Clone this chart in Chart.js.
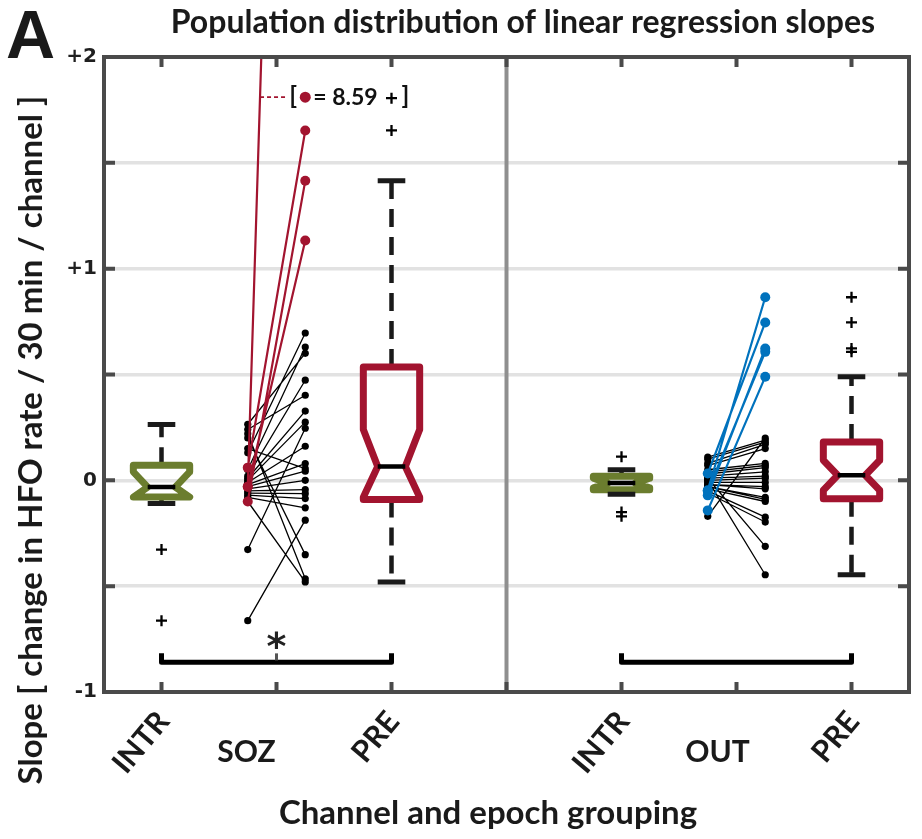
<!DOCTYPE html>
<html>
<head>
<meta charset="utf-8">
<script src="https://cdn.jsdelivr.net/npm/chart.js@4.4.1/dist/chart.umd.min.js"></script>
<style>
html,body{margin:0;padding:0;background:#ffffff;}
#wrap{width:922px;height:839px;position:relative;}
</style>
</head>
<body>
<div id="wrap"><canvas id="c" width="922" height="839"></canvas></div>
<script>
// ================= DATA =================
// x category positions 1..7 ; position 4 is the panel divider
const categories = ['INTR', 'SOZ', 'PRE', '', 'INTR', 'OUT', 'PRE'];
const yTickLabels = { '2': '+2', '1': '+1', '0': '0', '-1': '-1' };

// SOZ channels: slope during INTR (left column) paired with slope during PRE (right column)
const sozIntrBlack = [0.265, 0.24, 0.22, 0.20, 0.15, 0.13, 0.05, 0.02, 0.01, 0.00, -0.01, -0.02, -0.03, -0.04, -0.05, -0.06, -0.07, -0.08, -0.10, -0.327, -0.663];
const sozPreBlack  = [0.60, 0.402, -0.465, -0.351, 0.055, 0.696, 0.63, 0.473, 0.327, 0.275, 0.161, 0.079, 0.043, 0.00, -0.044, -0.063, -0.086, -0.13, -0.48, 0.246, -0.188];
const sozIntrRed   = [0.06, -0.10, -0.03, -0.03];
const sozPreRed    = [1.653, 1.415, 1.133, 8.59];

// OUT channels
const outIntrBlack = [0.11, 0.10, 0.08, 0.07, 0.05, 0.04, 0.03, 0.02, 0.00, 0.01, 0.01, 0.00, -0.01, -0.02, -0.02, -0.03, -0.03, -0.04, -0.05, -0.06, -0.17];
const outPreBlack  = [0.19, 0.18, 0.17, 0.15, 0.08, 0.07, 0.06, 0.04, -0.446, -0.312, 0.02, 0.01, -0.01, -0.03, -0.04, -0.08, -0.09, -0.10, -0.174, -0.197, 0.20];
const outIntrBlue  = [-0.047, 0.032, -0.071, -0.05, -0.142];
const outPreBlue   = [0.865, 0.746, 0.623, 0.607, 0.489];

// Box statistics: [lowerWhisker, q1, notchLow, median, notchHigh, q3, upperWhisker]
const boxSozIntr = [-0.11, -0.079, -0.079, -0.032, 0.04, 0.071, 0.264];
const boxSozPre  = [-0.48, -0.09, -0.08, 0.065, 0.24, 0.536, 1.415];
const boxOutIntr = [-0.066, -0.044, -0.035, -0.013, 0.01, 0.019, 0.05];
const boxOutPre  = [-0.446, -0.087, -0.047, 0.024, 0.095, 0.181, 0.489];

// Outliers (+)
const outSozIntr = [-0.327, -0.663];
const outSozPre  = [1.653, 8.59];
const outOutIntr = [0.112, -0.15, -0.17];
const outOutPre  = [0.607, 0.623, 0.746, 0.865];

// off-scale annotation value & significance
const offScaleValue = 8.59;
const offScaleLabelY = 1.81;
const bracketY = -0.86;

// ================= STYLE =================
const RED = '#A2142F', GREEN = '#6B7D2E', BLUE = '#0072BD', BLACK = '#000000';
const AXIS = '#4a4a4a';
const FONT = 'Lato';
const POS = { sozIntr: 1, sozPair: 2, sozPre: 3, divider: 4, outIntr: 5, outPair: 6, outPre: 7 };
const PAIR_OFF = 0.25, BOX_W = 0.245, NOTCH_W = 0.12, CAP_W = 0.12;

function pairs(left, right, xc) {
  const d = [];
  left.forEach((v, i) => { d.push({ x: xc - PAIR_OFF, y: v }, { x: xc + PAIR_OFF, y: right[i] }, { x: xc + PAIR_OFF, y: null }); });
  return d;
}
function boxOutline(p, s) {
  const [wl, q1, nl, md, nh, q3, wh] = s;
  return [
    { x: p - BOX_W, y: q3 }, { x: p + BOX_W, y: q3 }, { x: p + BOX_W, y: nh }, { x: p + NOTCH_W, y: md },
    { x: p + BOX_W, y: nl }, { x: p + BOX_W, y: q1 }, { x: p - BOX_W, y: q1 }, { x: p - BOX_W, y: nl },
    { x: p - NOTCH_W, y: md }, { x: p - BOX_W, y: nh }, { x: p - BOX_W, y: q3 }
  ];
}
function whiskers(list) {
  const d = [];
  list.forEach(([p, s]) => { d.push({ x: p, y: s[5] }, { x: p, y: s[6] }, { x: p, y: null }, { x: p, y: s[1] }, { x: p, y: s[0] }, { x: p, y: null }); });
  return d;
}
function caps(list) {
  const d = [];
  list.forEach(([p, s]) => { d.push({ x: p - CAP_W, y: s[6] }, { x: p + CAP_W, y: s[6] }, { x: p, y: null }, { x: p - CAP_W, y: s[0] }, { x: p + CAP_W, y: s[0] }, { x: p, y: null }); });
  return d;
}
function medians(list) {
  const d = [];
  list.forEach(([p, s]) => { d.push({ x: p - NOTCH_W, y: s[3] }, { x: p + NOTCH_W, y: s[3] }, { x: p, y: null }); });
  return d;
}
function outl(p, arr) { return arr.map(v => ({ x: p, y: v })); }

const boxes = [[POS.sozIntr, boxSozIntr], [POS.sozPre, boxSozPre], [POS.outIntr, boxOutIntr], [POS.outPre, boxOutPre]];

const lineDs = (data, color, width, extra) => Object.assign({
  data, showLine: true, borderColor: color, backgroundColor: color, borderWidth: width,
  pointRadius: 0, fill: false, tension: 0, spanGaps: false
}, extra || {});

const datasets = [
  lineDs(medians(boxes), BLACK, 4.5),
  lineDs(caps(boxes), '#1a1a1a', 5),
  lineDs(boxOutline(POS.sozIntr, boxSozIntr), GREEN, 7, { borderJoinStyle: 'round', borderCapStyle: 'round' }),
  lineDs(boxOutline(POS.sozPre, boxSozPre), RED, 7, { borderJoinStyle: 'round', borderCapStyle: 'round' }),
  lineDs(boxOutline(POS.outIntr, boxOutIntr), GREEN, 7, { borderJoinStyle: 'round', borderCapStyle: 'round' }),
  lineDs(boxOutline(POS.outPre, boxOutPre), RED, 7, { borderJoinStyle: 'round', borderCapStyle: 'round' }),
  lineDs(whiskers(boxes), '#1a1a1a', 4.5, { borderDash: [18, 10] }),
  { data: [].concat(outl(POS.sozIntr, outSozIntr), outl(POS.sozPre, outSozPre), outl(POS.outIntr, outOutIntr), outl(POS.outPre, outOutPre)),
    showLine: false, pointStyle: 'cross', pointRadius: 5.5, borderColor: BLACK, pointBorderWidth: 2.3, backgroundColor: BLACK },
  lineDs(pairs(sozIntrRed, sozPreRed, POS.sozPair), RED, 2.2, { pointRadius: 5, pointBackgroundColor: RED, pointBorderWidth: 0 }),
  lineDs(pairs(outIntrBlue, outPreBlue, POS.outPair), BLUE, 2.2, { pointRadius: 5, pointBackgroundColor: BLUE, pointBorderWidth: 0 }),
  lineDs(pairs(sozIntrBlack, sozPreBlack, POS.sozPair), BLACK, 1.3, { pointRadius: 3.6, pointBackgroundColor: BLACK, pointBorderWidth: 0 }),
  lineDs(pairs(outIntrBlack, outPreBlack, POS.outPair), BLACK, 1.3, { pointRadius: 3.6, pointBackgroundColor: BLACK, pointBorderWidth: 0 })
];

// ================= DECORATION PLUGIN =================
function cross(ctx, cx, cy, r, w) {
  ctx.save(); ctx.strokeStyle = BLACK; ctx.lineWidth = w;
  ctx.beginPath(); ctx.moveTo(cx - r, cy); ctx.lineTo(cx + r, cy); ctx.moveTo(cx, cy - r); ctx.lineTo(cx, cy + r); ctx.stroke();
  ctx.restore();
}
const deco = {
  id: 'deco',
  beforeDatasetsDraw(chart) {
    const { ctx, chartArea: a, scales: { x } } = chart;
    const xd = x.getPixelForValue(POS.divider);
    ctx.save();
    ctx.strokeStyle = '#8f8f8f'; ctx.lineWidth = 4;
    ctx.beginPath(); ctx.moveTo(xd, a.top); ctx.lineTo(xd, a.bottom); ctx.stroke();
    ctx.restore();
  },
  afterDatasetsDraw(chart) {
    const { ctx, chartArea: a, scales: { x, y } } = chart;
    ctx.save();
    // frame
    ctx.strokeStyle = AXIS; ctx.lineWidth = 4;
    ctx.strokeRect(a.left, a.top, a.right - a.left, a.bottom - a.top);
    // tick marks (inward)
    ctx.lineWidth = 4;
    for (let v = -0.5; v <= 1.5; v += 0.5) {
      const py = y.getPixelForValue(v);
      ctx.beginPath(); ctx.moveTo(a.left, py); ctx.lineTo(a.left + 11, py);
      ctx.moveTo(a.right, py); ctx.lineTo(a.right - 11, py); ctx.stroke();
    }
    for (let k = 1; k <= 7; k++) {
      const px = x.getPixelForValue(k);
      ctx.beginPath(); ctx.moveTo(px, a.bottom); ctx.lineTo(px, a.bottom - 10);
      ctx.moveTo(px, a.top); ctx.lineTo(px, a.top + 10); ctx.stroke();
    }
    // significance brackets
    const by = y.getPixelForValue(bracketY);
    const drawBracket = (p1, p2) => {
      const x1 = x.getPixelForValue(p1), x2 = x.getPixelForValue(p2);
      ctx.strokeStyle = BLACK; ctx.lineWidth = 5; ctx.lineJoin = 'round';
      ctx.beginPath(); ctx.moveTo(x1, by - 9); ctx.lineTo(x1, by); ctx.lineTo(x2, by); ctx.lineTo(x2, by - 9); ctx.stroke();
    };
    drawBracket(POS.sozIntr, POS.sozPre);
    drawBracket(POS.outIntr, POS.outPre);
    const xm = x.getPixelForValue(POS.sozPair);
    ctx.strokeStyle = '#555'; ctx.lineWidth = 3;
    ctx.beginPath(); ctx.moveTo(xm, by - 9); ctx.lineTo(xm, by - 2); ctx.stroke();
    ctx.fillStyle = '#222'; ctx.font = 'bold 38px "DejaVu Sans"'; ctx.textAlign = 'center'; ctx.textBaseline = 'alphabetic';
    ctx.fillText('*', xm, by - 3);

    // off-scale annotation
    const iMax = sozPreRed.indexOf(offScaleValue);
    const xl = POS.sozPair - PAIR_OFF, xr = POS.sozPair + PAIR_OFF, yl = sozIntrRed[iMax];
    const xCross = xl + (xr - xl) * (offScaleLabelY - yl) / (offScaleValue - yl);
    const ly = y.getPixelForValue(offScaleLabelY);
    const lx0 = x.getPixelForValue(xCross), lx1 = x.getPixelForValue(2.085);
    ctx.strokeStyle = RED; ctx.lineWidth = 1.8; ctx.setLineDash([4, 3]);
    ctx.beginPath(); ctx.moveTo(lx0, ly); ctx.lineTo(lx1, ly); ctx.stroke();
    ctx.setLineDash([]);
    ctx.fillStyle = '#111'; ctx.font = 'bold 25px ' + FONT; ctx.textBaseline = 'middle';
    ctx.textAlign = 'left'; ctx.fillText('[', lx1 + 3, ly - 1);
    const dotX = x.getPixelForValue(xr);
    ctx.fillStyle = RED; ctx.beginPath(); ctx.arc(dotX, ly, 5.5, 0, Math.PI * 2); ctx.fill();
    ctx.fillStyle = '#111';
    ctx.font = 'bold 23px ' + FONT;
    ctx.fillText('= ' + offScaleValue.toFixed(2), dotX + 8, ly);
    cross(ctx, x.getPixelForValue(POS.sozPre), ly + 1, 5.5, 2.3);
    ctx.font = 'bold 25px ' + FONT;
    ctx.fillText(']', x.getPixelForValue(POS.sozPre) + 10, ly - 1);
    ctx.restore();
  },
  afterDraw(chart) {
    const { ctx, chartArea: a, scales: { x } } = chart;
    ctx.save();
    ctx.fillStyle = '#1a1a1a';
    // panel letter
    ctx.font = 'bold 68px "Liberation Sans"'; ctx.textAlign = 'left'; ctx.textBaseline = 'alphabetic';
    ctx.fillText('A', 6, 58);
    // title
    ctx.font = 'bold 32px ' + FONT; ctx.textAlign = 'center'; ctx.textBaseline = 'middle';
    ctx.fillText('Population distribution of linear regression slopes', 523, 23);
    // x-axis title
    ctx.font = 'bold 33px ' + FONT;
    ctx.fillText('Channel and epoch grouping', 488, 813);
    // y-axis title
    ctx.save(); ctx.translate(31, 440); ctx.rotate(-Math.PI / 2);
    ctx.font = 'bold 33px ' + FONT;
    ctx.fillText('Slope [ change in HFO rate / 30 min / channel ]', 0, 0);
    ctx.restore();
    // category labels
    ctx.font = 'bold 30px ' + FONT;
    categories.forEach((lab, i) => {
      if (!lab) return;
      const p = i + 1, px = x.getPixelForValue(p);
      if (lab === 'SOZ' || lab === 'OUT') {
        ctx.textAlign = 'center'; ctx.textBaseline = 'middle';
        ctx.fillText(lab, px - (lab === 'SOZ' ? 30 : 19), 752);
      } else {
        ctx.save(); ctx.translate(px + 2, 716); ctx.rotate(-50 * Math.PI / 180);
        ctx.textAlign = 'right'; ctx.textBaseline = 'middle';
        ctx.fillText(lab, 0, 0);
        ctx.restore();
      }
    });
    ctx.restore();
  }
};

Chart.defaults.font.family = FONT;
new Chart(document.getElementById('c'), {
  type: 'scatter',
  data: { datasets },
  options: {
    responsive: false, animation: false, events: [],
    layout: { padding: { top: 57, right: 13, left: 0, bottom: 0 } },
    plugins: { legend: { display: false }, tooltip: { enabled: false }, title: { display: false } },
    scales: {
      x: {
        type: 'linear', min: 0.5, max: 7.5,
        ticks: { display: false }, grid: { display: false }, border: { display: false },
        afterFit: s => { s.height = 147; }
      },
      y: {
        type: 'linear', min: -1, max: 2,
        ticks: {
          stepSize: 0.5, autoSkip: false, padding: 7, color: '#1f1f1f',
          font: { family: 'DejaVu Sans', weight: 'bold', size: 20 },
          callback: v => (yTickLabels[String(v)] !== undefined ? yTickLabels[String(v)] : '')
        },
        grid: { color: '#e2e2e2', lineWidth: 3.5, drawTicks: false },
        border: { display: false },
        afterFit: s => { s.width = 104; }
      }
    }
  },
  plugins: [deco]
});
</script>
</body>
</html>
